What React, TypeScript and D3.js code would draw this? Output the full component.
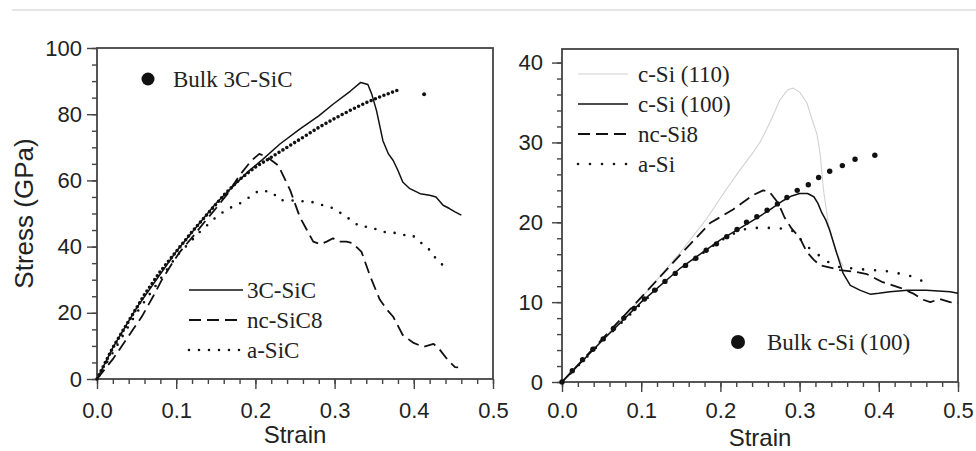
import { useRef, useEffect } from "react";
import * as d3 from "d3";

// ---- left panel: SiC (strain, stress GPa) ----
const sic3C = [
  [0, 0], [0.02, 9.5], [0.05, 21.5], [0.1, 38.5], [0.15, 53], [0.19, 62.5], [0.21, 66.5],
  [0.231, 71], [0.256, 75.5], [0.28, 79.5], [0.298, 83], [0.32, 87], [0.333, 89.6],
  [0.342, 89], [0.347, 86], [0.353, 81], [0.361, 72], [0.368, 68], [0.374, 66], [0.38, 63],
  [0.386, 59.5], [0.395, 57.5], [0.408, 56], [0.42, 55.5], [0.428, 55], [0.437, 52.5],
  [0.445, 51.5], [0.452, 50.5], [0.46, 49.5],
];
const ncSiC8 = [
  [0, 0], [0.02, 6], [0.04, 13], [0.057, 19], [0.071, 25], [0.082, 30], [0.095, 35],
  [0.105, 38.5], [0.121, 43], [0.136, 47.5], [0.15, 51.5], [0.165, 56], [0.18, 61.5],
  [0.195, 66], [0.205, 68], [0.215, 67], [0.229, 64.5], [0.244, 57], [0.256, 49],
  [0.265, 45], [0.273, 41.5], [0.282, 40.7], [0.29, 41.5], [0.298, 42.5], [0.305, 41.5],
  [0.315, 41.5], [0.323, 41], [0.334, 38.4], [0.345, 31], [0.357, 24], [0.366, 21],
  [0.374, 18.8], [0.386, 13.3], [0.399, 11], [0.412, 9.7], [0.425, 10.6], [0.433, 8.8],
  [0.443, 5.7], [0.452, 3.6], [0.456, 3.5],
];
const aSiC = [
  [0, 0], [0.05, 20], [0.1, 37], [0.13, 44.5], [0.153, 49.5], [0.168, 51.7], [0.18, 53],
  [0.193, 55], [0.205, 57], [0.221, 56.5], [0.231, 54], [0.244, 54], [0.271, 53.5],
  [0.298, 51.6], [0.315, 49], [0.332, 46], [0.345, 46], [0.36, 44.4], [0.372, 44.4],
  [0.385, 43.5], [0.398, 43.5], [0.41, 41], [0.42, 39], [0.429, 36], [0.441, 33.5],
];
const bulk3C = [
  [0, 0], [0.02, 9.5], [0.04, 17.5], [0.06, 25.5], [0.08, 32.5], [0.1, 38.5], [0.12, 44.5],
  [0.14, 50], [0.16, 55.5], [0.18, 60.3], [0.2, 64], [0.22, 67], [0.24, 70], [0.26, 73],
  [0.28, 76], [0.3, 78.7], [0.32, 81.2], [0.34, 83.5], [0.36, 85.5], [0.38, 87.3], [0.413, 86],
];

// ---- right panel: Si ----
const cSi110 = [
  [0, 0], [0.05, 5.2], [0.1, 10.5], [0.15, 16.3], [0.183, 20.5], [0.208, 24.2], [0.225, 26.6],
  [0.241, 28.7], [0.25, 30], [0.263, 32.6], [0.275, 35.3], [0.285, 36.6], [0.292, 36.8],
  [0.3, 36.3], [0.309, 35], [0.317, 32.5], [0.322, 31], [0.326, 28.5], [0.33, 24.2],
  [0.336, 20], [0.345, 16.5], [0.355, 14.5],
];
const cSi100 = [
  [0, 0], [0.05, 5.1], [0.1, 10], [0.15, 14.3], [0.2, 17.8], [0.237, 20], [0.26, 21.4],
  [0.279, 22.7], [0.29, 23.3], [0.3, 23.6], [0.31, 23.6], [0.318, 23.2], [0.323, 22.4],
  [0.328, 21.2], [0.333, 20.3], [0.338, 19], [0.347, 16.1], [0.355, 13.6], [0.364, 12.1],
  [0.376, 11.5], [0.389, 11], [0.4, 11.1], [0.414, 11.3], [0.436, 11.5], [0.46, 11.5],
  [0.475, 11.4], [0.49, 11.3], [0.5, 11.1],
];
const ncSi8 = [
  [0, 0], [0.05, 5.3], [0.1, 10.6], [0.15, 16], [0.187, 19.9], [0.216, 21.6], [0.241, 23.4],
  [0.254, 24], [0.262, 23.8], [0.273, 22.4], [0.281, 20.6], [0.29, 19.2], [0.3, 18.1],
  [0.309, 16.3], [0.318, 15.3], [0.326, 14.6], [0.34, 14.3], [0.351, 14], [0.37, 13.8],
  [0.385, 13.5], [0.395, 13], [0.405, 12.5], [0.427, 11.8], [0.443, 11.1], [0.456, 10.3],
  [0.465, 10], [0.477, 10.4], [0.49, 10], [0.5, 9.9],
];
const aSi = [
  [0, 0], [0.05, 5], [0.1, 9.8], [0.15, 14.2], [0.2, 17.7], [0.225, 19], [0.24, 19.3],
  [0.26, 19.3], [0.28, 19.2], [0.29, 19], [0.3, 18], [0.31, 16.9], [0.32, 16.3], [0.33, 15.3],
  [0.35, 14.4], [0.37, 14.2], [0.39, 14], [0.405, 14], [0.42, 13.6], [0.43, 13.6],
  [0.445, 13.1], [0.46, 12.4],
];
const bulkSi = [
  [0, 0], [0.013, 1.4], [0.026, 2.8], [0.039, 4.1], [0.052, 5.4], [0.065, 6.7], [0.078, 8],
  [0.091, 9.2], [0.104, 10.4], [0.117, 11.5], [0.13, 12.6], [0.143, 13.6], [0.156, 14.6],
  [0.169, 15.5], [0.182, 16.5], [0.195, 17.3], [0.208, 18.2], [0.221, 19.1], [0.233, 20],
  [0.246, 20.7], [0.259, 21.5], [0.272, 22.3], [0.284, 23.1], [0.297, 24], [0.311, 24.7],
  [0.324, 25.6], [0.338, 26.4], [0.354, 27.1], [0.37, 27.9], [0.395, 28.4],
];

const xMajor = [0, 0.1, 0.2, 0.3, 0.4, 0.5];
const xMinor = d3.range(0, 0.5001, 0.02);
const leftYMajor = [0, 20, 40, 60, 80, 100];
const leftYMinor = d3.range(0, 100.01, 5);
const rightYMajor = [0, 10, 20, 30, 40];
const rightYMinor = d3.range(0, 41, 2);

const leftLegend = ["3C-SiC", "nc-SiC8", "a-SiC"];
const rightLegend = ["c-Si (110)", "c-Si (100)", "nc-Si8", "a-Si"];

const SANS = "'Liberation Sans', Arial, sans-serif";
const SERIF = "'Liberation Serif', 'Times New Roman', serif";

const STYLES = {
  solid: { stroke: "#111", width: 1.5, dash: null, cap: "butt" },
  gray: { stroke: "#d2d2d2", width: 1.1, dash: null, cap: "butt" },
  dash: { stroke: "#111", width: 1.8, dash: "12,6", cap: "butt" },
  dot: { stroke: "#111", width: 2.6, dash: "0,10", cap: "round" },
  dotR: { stroke: "#111", width: 2.6, dash: "0,12", cap: "round" },
};

const App = () => {
  const svgRef = useRef(null);

  useEffect(() => {
    const svg = d3.select(svgRef.current);
    svg.selectAll("*").remove();

    svg.append("line").attr("x1", 12).attr("x2", 976).attr("y1", 10).attr("y2", 10)
      .attr("stroke", "#dcdcdc").attr("stroke-width", 1.5);

    const drawPanel = (cfg) => {
      const { x, y, yMajor, yMinor, xPad, yPad, titleY, yTitle } = cfg;
      const g = svg.append("g");
      const [x0, x1] = x.range();
      const [y0, y1] = y.range();

      const bottom = g.append("g").attr("transform", `translate(0,${y0})`);
      bottom.call(d3.axisBottom(x).tickValues(xMinor).tickSize(5).tickFormat(() => ""));
      const bMaj = g.append("g").attr("transform", `translate(0,${y0})`)
        .call(d3.axisBottom(x).tickValues(xMajor).tickSize(10).tickPadding(xPad).tickFormat(d3.format(".1f")));
      const left = g.append("g").attr("transform", `translate(${x0},0)`);
      left.call(d3.axisLeft(y).tickValues(yMinor).tickSize(5).tickFormat(() => ""));
      const lMaj = g.append("g").attr("transform", `translate(${x0},0)`)
        .call(d3.axisLeft(y).tickValues(yMajor).tickSize(10).tickPadding(yPad));
      g.selectAll(".domain").remove();
      g.selectAll(".tick line").attr("stroke", "#444").attr("stroke-width", 1.4);
      [bMaj, lMaj].forEach((a) =>
        a.selectAll("text").style("font-family", SANS).style("font-size", "22px").attr("fill", "#222"));

      g.append("rect").attr("x", x0).attr("y", y1).attr("width", x1 - x0).attr("height", y0 - y1)
        .attr("fill", "none").attr("stroke", "#444").attr("stroke-width", 1.8);

      g.append("text").attr("x", (x0 + x1) / 2).attr("y", titleY).attr("text-anchor", "middle")
        .style("font-family", SANS).style("font-size", "24px").attr("fill", "#222").text("Strain");

      if (yTitle) {
        g.append("text").attr("transform", `translate(33,${(y0 + y1) / 2}) rotate(-90)`)
          .attr("text-anchor", "middle").style("font-family", SANS).style("font-size", "26px")
          .attr("fill", "#222").text(yTitle);
      }

      const line = d3.line().x((d) => x(d[0])).y((d) => y(d[1]));
      const plot = (data, st) => {
        const p = g.append("path").datum(data).attr("fill", "none").attr("stroke", st.stroke)
          .attr("stroke-width", st.width).attr("stroke-linecap", st.cap)
          .attr("stroke-linejoin", "round").attr("d", line);
        if (st.dash) p.attr("stroke-dasharray", st.dash);
      };
      return { g, x, y, line, plot };
    };

    // left panel
    const L = drawPanel({
      x: d3.scaleLinear([0, 0.5], [97, 493]),
      y: d3.scaleLinear([0, 100], [379, 48]),
      yMajor: leftYMajor, yMinor: leftYMinor, xPad: 13, yPad: 5, titleY: 443,
      yTitle: "Stress (GPa)",
    });
    const bulkMain = bulk3C.filter((d) => d[0] <= 0.38);
    const bulkLoose = bulk3C.filter((d) => d[0] > 0.38);
    L.plot(aSiC, STYLES.dot);
    L.plot(ncSiC8, STYLES.dash);
    L.plot(sic3C, STYLES.solid);
    L.g.append("path").datum(bulkMain).attr("fill", "none").attr("stroke", "#111")
      .attr("stroke-width", 3.6).attr("stroke-linecap", "round").attr("stroke-dasharray", "0,4.6")
      .attr("d", L.line);
    L.g.selectAll(".loose").data(bulkLoose).enter().append("circle")
      .attr("cx", (d) => L.x(d[0])).attr("cy", (d) => L.y(d[1])).attr("r", 2).attr("fill", "#111");

    // left legends
    L.g.append("circle").attr("cx", 148).attr("cy", 79).attr("r", 6.5).attr("fill", "#111");
    L.g.append("text").attr("x", 173).attr("y", 87).style("font-family", SERIF)
      .style("font-size", "23px").attr("fill", "#222").text("Bulk 3C-SiC");
    const leftStyles = [STYLES.solid, STYLES.dash, STYLES.dot];
    leftLegend.forEach((name, i) => {
      const yy = 290 + i * 30;
      const st = leftStyles[i];
      const ln = L.g.append("line").attr("x1", 189).attr("x2", 243).attr("y1", yy).attr("y2", yy)
        .attr("stroke", st.stroke).attr("stroke-width", st.width).attr("stroke-linecap", st.cap);
      if (st.dash) ln.attr("stroke-dasharray", st.dash);
      L.g.append("text").attr("x", 247).attr("y", yy + 8).style("font-family", SERIF)
        .style("font-size", "23px").attr("fill", "#222").text(name);
    });

    // right panel
    const R = drawPanel({
      x: d3.scaleLinear([0, 0.5], [562, 958]),
      y: d3.scaleLinear([0, 41.7], [382, 49]),
      yMajor: rightYMajor, yMinor: rightYMinor, xPad: 10, yPad: 9, titleY: 446,
      yTitle: null,
    });
    R.plot(cSi110, STYLES.gray);
    R.plot(aSi, STYLES.dotR);
    R.plot(ncSi8, STYLES.dash);
    R.plot(cSi100, STYLES.solid);
    R.g.selectAll(".bulk").data(bulkSi).enter().append("circle")
      .attr("cx", (d) => R.x(d[0])).attr("cy", (d) => R.y(d[1])).attr("r", 2.7).attr("fill", "#111");

    const rightStyles = [STYLES.gray, STYLES.solid, STYLES.dash, STYLES.dotR];
    rightLegend.forEach((name, i) => {
      const yy = 74 + i * 30;
      const st = rightStyles[i];
      const ln = R.g.append("line").attr("x1", 578).attr("x2", 628).attr("y1", yy).attr("y2", yy)
        .attr("stroke", st.stroke).attr("stroke-width", st.width).attr("stroke-linecap", st.cap);
      if (st.dash) ln.attr("stroke-dasharray", st.dash);
      R.g.append("text").attr("x", 638).attr("y", yy + 8).style("font-family", SERIF)
        .style("font-size", "23px").attr("fill", "#222").text(name);
    });
    R.g.append("circle").attr("cx", 738).attr("cy", 342).attr("r", 7).attr("fill", "#111");
    R.g.append("text").attr("x", 767).attr("y", 350).style("font-family", SERIF)
      .style("font-size", "23px").attr("fill", "#222").text("Bulk c-Si (100)");
  }, []);

  return (
    <svg ref={svgRef} width={976} height={451}
      style={{ position: "absolute", left: 0, top: 0, background: "#fff" }} />
  );
};

export default App;
